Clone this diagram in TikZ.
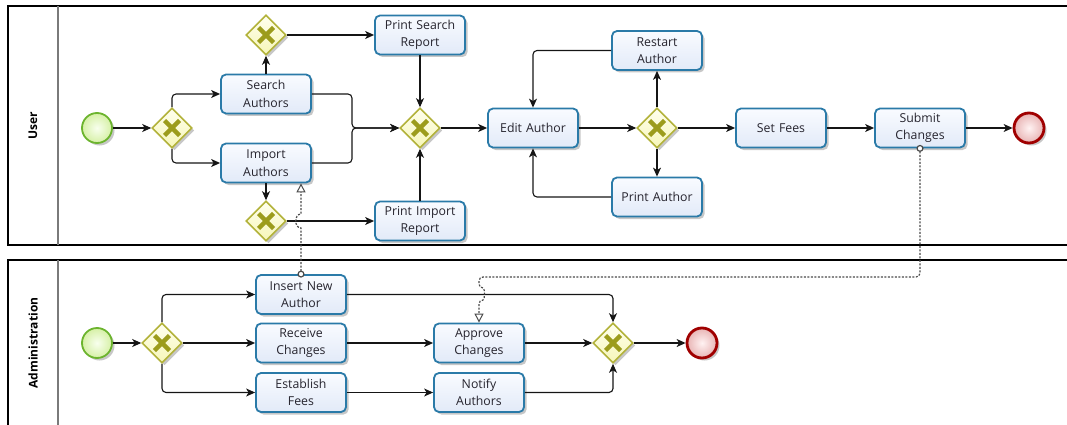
\documentclass[tikz,border=0pt]{standalone}
\usepackage{fontspec}
\setmainfont{Open Sans}
\usetikzlibrary{shapes.geometric,arrows.meta,shadows,calc}
\definecolor{taskline}{HTML}{2A7AA8}
\definecolor{tasktop}{HTML}{F9FBFF}
\definecolor{taskbot}{HTML}{E2EAF8}
\definecolor{txt}{HTML}{26242E}
\definecolor{gwline}{HTML}{B2B23A}
\definecolor{gwx}{HTML}{9C9C1C}
\definecolor{gwtop}{HTML}{FFFFEE}
\definecolor{gwbot}{HTML}{F6F6B8}
\definecolor{stline}{HTML}{6CB42E}
\definecolor{stin}{HTML}{F8FFEE}
\definecolor{stout}{HTML}{D6F0A6}
\definecolor{enline}{HTML}{A00000}
\definecolor{enin}{HTML}{FFF2F2}
\definecolor{enout}{HTML}{E8B4B4}
\definecolor{flowc}{HTML}{151515}
\definecolor{msgc}{HTML}{4A4A4A}
\definecolor{divc}{HTML}{7A7A7A}
\begin{document}
\begin{tikzpicture}[x=1pt,y=-1pt,
  shadowed/.style={drop shadow={shadow xshift=2.5pt,shadow yshift=-2.5pt,opacity=0.22,fill=black}},
  task/.style={draw=taskline, line width=1.8pt, rounded corners=5pt,
    top color=tasktop, bottom color=taskbot, minimum width=90pt, minimum height=39pt,
    text width=86pt, align=center, inner sep=0pt, text=txt,
    font=\fontsize{12.3}{17.5}\selectfont, shadowed},
  gw/.style={diamond, draw=gwline, line width=1.6pt, top color=gwtop, bottom color=gwbot,
    minimum width=40pt, minimum height=40pt, inner sep=0pt, shadowed,
    path picture={
      \draw[gwx, line width=4.5pt]
        ([shift={(-7.5pt,-7.5pt)}]path picture bounding box.center) --
        ([shift={(7.5pt,7.5pt)}]path picture bounding box.center);
      \draw[gwx, line width=4.5pt]
        ([shift={(-7.5pt,7.5pt)}]path picture bounding box.center) --
        ([shift={(7.5pt,-7.5pt)}]path picture bounding box.center);
    }},
  startev/.style={circle, draw=stline, line width=1.8pt, inner color=stin, outer color=stout,
    minimum size=30pt, inner sep=0pt, shadowed},
  endev/.style={circle, draw=enline, line width=2.8pt, inner color=enin, outer color=enout,
    minimum size=30pt, inner sep=0pt, shadowed},
  flow/.style={draw=flowc, line width=1.1pt, -{Stealth[length=9pt,width=8pt,inset=2.5pt]}},
  msg/.style={draw=msgc, line width=1.2pt, dash pattern=on 2pt off 1.5pt, shorten <=-3.5pt,
    {Circle[open,length=7pt,width=7pt,fill=white,line width=1.2pt]}-{Triangle[open,length=9pt,width=9pt,fill=white,line width=1pt]}},
  pool/.style={draw=black, line width=1.2pt},
  divider/.style={draw=divc, line width=1.8pt},
  lanelabel/.style={rotate=90, font=\fontsize{12}{14}\selectfont\bfseries, text=black}
]
\useasboundingbox (0,0) rectangle (1067,425);

% pools
\draw[pool] (1080,6) -- (8,6) -- (8,245) -- (1080,245);
\draw[divider] (58,6) -- (58,245);
\draw[pool] (1080,260) -- (8,260) -- (8,430);
\draw[divider] (58,260) -- (58,430);
\node[lanelabel] (lu) at (33,126) {User};
\node[lanelabel] (la) at (33,343) {Administration};

% user lane nodes
\node[startev] (se1) at (97,128) {};
\node[gw] (g1) at (172,128) {};
\node[task] (sa) at (266,94) {Search\\Authors};
\node[task] (ia) at (266,163) {Import\\Authors};
\node[gw] (g2) at (266,35) {};
\node[gw] (g3) at (266,221) {};
\node[task] (psr) at (420,35) {Print Search\\Report};
\node[task] (pir) at (420,221) {Print Import\\Report};
\node[gw] (g4) at (420,128) {};
\node[task] (ea) at (533,128) {Edit Author};
\node[gw] (g5) at (657,128) {};
\node[task] (ra) at (657,50.5) {Restart\\Author};
\node[task] (pa) at (657,197) {Print Author};
\node[task] (sf) at (781,128) {Set Fees};
\node[task] (sc) at (920,128) {Submit\\Changes};
\node[endev] (ee1) at (1029,128) {};
\coordinate (j1) at (352,128);

% admin lane nodes
\node[startev] (se2) at (97,343) {};
\node[gw] (a1) at (162,343) {};
\node[task] (ina) at (301,294.5) {Insert New\\Author};
\node[task] (rc) at (301,343) {Receive\\Changes};
\node[task] (ef) at (301,392.5) {Establish\\Fees};
\node[task] (ac) at (479,343) {Approve\\Changes};
\node[task] (na) at (479,392.5) {Notify\\Authors};
\node[gw] (a2) at (613,343) {};
\node[endev] (ee2) at (702,343) {};

% user flows
\draw[flow] (se1.east) -- (g1.west);
\draw[flow, rounded corners=4] (g1.north) |- (sa.west);
\draw[flow, rounded corners=4] (g1.south) |- (ia.west);
\draw[flow] (sa.north) -- (g2.south);
\draw[flow] (ia.south) -- (g3.north);
\draw[flow] (g2.east) -- (psr.west);
\draw[flow] (g3.east) -- (pir.west);
\draw[flow, rounded corners=4] (sa.east) -| (j1) -- (g4.west);
\draw[flow, rounded corners=4] (ia.east) -| (j1) -- (g4.west);
\draw[flow] (psr.south) -- (g4.north);
\draw[flow] (pir.north) -- (g4.south);
\draw[flow] (g4.east) -- (ea.west);
\draw[flow] (ea.east) -- (g5.west);
\draw[flow] (g5.north) -- (ra.south);
\draw[flow] (g5.south) -- (pa.north);
\draw[flow, rounded corners=4] (ra.west) -| (ea.north);
\draw[flow, rounded corners=4] (pa.west) -| (ea.south);
\draw[flow] (g5.east) -- (sf.west);
\draw[flow] (sf.east) -- (sc.west);
\draw[flow] (sc.east) -- (ee1.west);

% admin flows
\draw[flow] (se2.east) -- (a1.west);
\draw[flow, rounded corners=4] (a1.north) |- (ina.west);
\draw[flow] (a1.east) -- (rc.west);
\draw[flow, rounded corners=4] (a1.south) |- (ef.west);
\draw[flow, rounded corners=4] (ina.east) -| (a2.north);
\draw[flow] (rc.east) -- (ac.west);
\draw[flow] (ac.east) -- (a2.west);
\draw[flow] (ef.east) -- (na.west);
\draw[flow, rounded corners=4] (na.east) -| (a2.south);
\draw[flow] (a2.east) -- (ee2.west);

% message flows
\coordinate (h1a) at (301,228);
\coordinate (h1b) at (301,214);
\draw[msg] (ina.north) -- (h1a) .. controls (294,228) and (294,214) .. (h1b) -- (ia.south -| ina.north);
\coordinate (m2a) at (920,277);
\coordinate (m2b) at (479,277);
\coordinate (h2a) at (479,288);
\coordinate (h2b) at (479,300);
\draw[msg, rounded corners=4] (sc.south) -- (m2a) -- (m2b) -- (h2a) .. controls (485,288) and (485,300) .. (h2b) -- (ac.north);
\end{tikzpicture}
\end{document}
